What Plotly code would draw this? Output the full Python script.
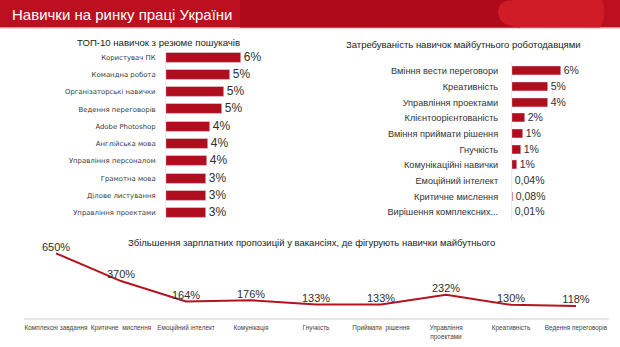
import plotly.graph_objects as go

# ---------------- data ----------------
left_cats = ["Користувач ПК", "Командна робота", "Організаторські навички", "Ведення переговорів",
             "Adobe Photoshop", "Англійська мова", "Управління персоналом", "Грамотна мова",
             "Ділове листування", "Управління проектами"]
left_vals = [6.0, 5.1, 4.6, 4.5, 3.5, 3.35, 3.3, 3.2, 3.2, 3.2]
left_labels = ["6%", "5%", "5%", "5%", "4%", "4%", "4%", "3%", "3%", "3%"]

right_cats = ["Вміння вести переговори", "Креативність", "Управління проектами",
              "Клієнтоорієнтованість", "Вміння приймати рішення", "Гнучкість",
              "Комунікаційні навички", "Емоційний інтелект", "Критичне мислення",
              "Вирішення комплексних..."]
right_vals = [6.0, 4.5, 4.4, 1.6, 1.4, 1.1, 0.6, 0.04, 0.08, 0.01]
right_labels = ["6%", "5%", "4%", "2%", "1%", "1%", "1%", "0,04%", "0,08%", "0,01%"]

bottom_cats = ["Комплексні завдання", "Критичне  мислення", "Емоційний інтелект", "Комунікація",
               "Гнучкість", "Приймати  рішення", "Управління<br>проектами", "Креативність",
               "Ведення переговорів"]
bottom_vals = [650, 370, 164, 176, 133, 133, 232, 130, 118]
bottom_labels = [f"{v}%" for v in bottom_vals]

title_main = "Навички на ринку праці України"
title_left = "ТОП-10 навичок з резюме пошукачів"
title_right = "Затребуваність навичок майбутнього роботодавцями"
title_bottom = "Збільшення зарплатних пропозицій у вакансіях, де фігурують навички майбутнього"

# ---------------- style ----------------
W, H = 620, 347
RED = "#b00d1e"
FONT = "Liberation Sans, Arial, sans-serif"
SMALL = "DejaVu Sans, Verdana, sans-serif"


def px(x):
    return x / W


def py(y):
    return 1 - y / H


fig = go.Figure()

fig.add_trace(go.Bar(
    x=left_vals, y=left_cats, orientation="h", marker_color=RED, width=0.58,
    text=left_labels, textposition="outside", constraintext="none", cliponaxis=False,
    textfont=dict(size=12, color="#303030", family=FONT),
    xaxis="x", yaxis="y", hoverinfo="skip", showlegend=False))

fig.add_trace(go.Bar(
    x=right_vals, y=right_cats, orientation="h", marker_color=RED, width=0.58,
    text=right_labels, textposition="outside", constraintext="none", cliponaxis=False,
    textfont=dict(size=10.5, color="#303030", family=FONT),
    xaxis="x2", yaxis="y2", hoverinfo="skip", showlegend=False))

fig.add_trace(go.Scatter(
    x=bottom_cats, y=bottom_vals, mode="lines+text", text=bottom_labels,
    textposition="top center", cliponaxis=False,
    textfont=dict(size=11, color="#303030", family=FONT),
    line=dict(color="#b3141f", width=2),
    xaxis="x3", yaxis="y3", hoverinfo="skip", showlegend=False))

# domains
L_x0, L_scale = 166, 12.5
R_x0, R_scale = 512, 8.1
B_zero, B_scale = 317.7, 0.09906

fig.update_layout(
    width=W, height=H, margin=dict(l=0, r=0, t=0, b=0, autoexpand=False),
    paper_bgcolor="white", plot_bgcolor="rgba(0,0,0,0)",
    font=dict(family=FONT, color="#333333"),
    bargap=0,
    xaxis=dict(domain=[px(L_x0), px(300)], range=[0, (300 - L_x0) / L_scale],
               visible=False, fixedrange=True, automargin=False),
    yaxis=dict(domain=[py(57.3 + 8.63 + 9 * 17.27), py(57.3 - 8.63)],
               range=[9.5, -0.5], anchor="x", showgrid=False, zeroline=False,
               showline=True, linecolor="#ebebeb", linewidth=1, automargin=False,
               ticks="outside", ticklen=8, tickcolor="rgba(0,0,0,0)",
               tickfont=dict(size=6.9, color="#3a3a3a", family=SMALL)),
    xaxis2=dict(domain=[px(R_x0), px(610)], range=[0, (610 - R_x0) / R_scale],
                visible=False, fixedrange=True, anchor="y2", automargin=False),
    yaxis2=dict(domain=[py(71 + 7.83 + 9 * 15.67), py(71 - 7.83)],
                range=[9.5, -0.5], anchor="x2", showgrid=False, zeroline=False,
                showline=True, linecolor="#ebebeb", linewidth=1, automargin=False,
                ticks="outside", ticklen=11, tickcolor="rgba(0,0,0,0)",
                tickfont=dict(size=9.2, color="#333333", family=FONT)),
    xaxis3=dict(domain=[px(23.5), px(608.5)], range=[-0.5, 8.5], anchor="y3",
                showgrid=False, zeroline=False, showline=True, linecolor="#e6e6e6",
                linewidth=2, ticks="outside", ticklen=3, tickcolor="rgba(0,0,0,0)",
                tickangle=0, automargin=False,
                tickfont=dict(size=6.4, color="#444444", family=FONT)),
    yaxis3=dict(domain=[py(B_zero), py(236)], range=[0, (B_zero - 236) / B_scale],
                anchor="x3", visible=False, fixedrange=True, automargin=False),
)

# header band
fig.add_shape(type="rect", xref="paper", yref="paper", x0=0, x1=1, y0=py(27.5), y1=1,
              fillcolor="#bc0f1f", line_width=0, layer="below")
fig.add_shape(type="rect", xref="paper", yref="paper", x0=px(240), x1=px(520), y0=py(27.5), y1=1,
              fillcolor="#ae0a1a", line_width=0, layer="below")
blob = (f"M {px(525)},{py(27.5)} Q {px(498)},{py(27.5)} {px(498)},{py(12)} "
        f"Q {px(498)},{py(0)} {px(515)},{py(0)} L {px(602)},{py(0)} "
        f"Q {px(608)},{py(14)} {px(600)},{py(27.5)} Z")
fig.add_shape(type="path", xref="paper", yref="paper", path=blob,
              fillcolor="#cf1c26", line_width=0, layer="below")
fig.add_shape(type="line", xref="paper", yref="paper", x0=0, x1=1, y0=py(28.5), y1=py(28.5),
              line=dict(color="#f2d6d8", width=1), layer="below")

fig.add_annotation(text=title_main, xref="paper", yref="paper", x=px(10), y=py(14),
                   xanchor="left", yanchor="middle", showarrow=False,
                   font=dict(size=15, color="white", family=FONT))
fig.add_annotation(text=title_left, xref="paper", yref="paper", x=px(158), y=py(42),
                   xanchor="center", yanchor="middle", showarrow=False,
                   font=dict(size=9.6, color="#222222", family=FONT))
fig.add_annotation(text=title_right, xref="paper", yref="paper", x=px(463), y=py(44.5),
                   xanchor="center", yanchor="middle", showarrow=False,
                   font=dict(size=9.5, color="#222222", family=FONT))
fig.add_annotation(text=title_bottom, xref="paper", yref="paper", x=px(312), y=py(242),
                   xanchor="center", yanchor="middle", showarrow=False,
                   font=dict(size=9.5, color="#222222", family=FONT))

fig.write_html("out.html")
